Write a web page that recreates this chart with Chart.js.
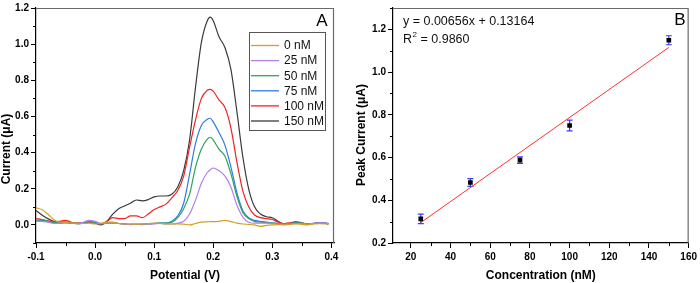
<!DOCTYPE html>
<html><head><meta charset="utf-8">
<script src="https://cdn.jsdelivr.net/npm/chart.js@4.4.0/dist/chart.umd.min.js"></script>
<style>
html,body{margin:0;padding:0;background:#fff;}
#wrap{width:700px;height:283px;position:relative;}
canvas{position:absolute;top:0;}
</style></head><body>
<div id="wrap"><canvas id="cA" width="350" height="283" style="left:0"></canvas><canvas id="cB" width="350" height="283" style="left:350px"></canvas></div>
<script>
// ---------- Panel A data ----------
const potential = [-0.1,-0.09,-0.08,-0.07,-0.06,-0.05,-0.04,-0.03,-0.02,-0.01,0,0.01,0.02,0.03,0.04,0.05,0.06,0.07,0.08,0.09,0.1,0.11,0.12,0.13,0.14,0.15,0.16,0.17,0.18,0.19,0.195,0.2,0.21,0.22,0.23,0.24,0.25,0.26,0.27,0.28,0.29,0.3,0.31,0.32,0.33,0.34,0.35,0.36,0.37,0.38,0.39,0.395];
const i0   = [0.095,0.085,0.06,0.03,0.015,0.015,0.012,0.01,0.008,0.01, 0.005,0.01,0.015,0.015,0.008,0.005,0.005,0.004,0.005,0.007, 0.01,0.008,0.005,0.005,0.006,0.004,0.0,0.008,0.015,0.017, 0.018, 0.018,0.02,0.025,0.018,0.01,0.005,0.003,0.0,-0.008, -0.003,0.0,0.002,0.0,0.003,0.005,0.003,0.0,0.005,0.007, 0.006,0.005];
const i25  = [0.02,0.02,0.015,0.008,0.01,0.012,0.01,0.008,0.015,0.025, 0.02,0.008,0.01,0.01,0.008,0.005,0.003,0.003,0.004,0.005, 0.006,0.008,0.005,0.005,0.01,0.02,0.06,0.136,0.23,0.29, 0.305, 0.315,0.3,0.27,0.21,0.11,0.045,0.015,0.01,0.01, 0.01,0.008,0.005,0.003,0.005,0.008,0.008,0.005,0.01,0.012, 0.012,0.008];
const i50  = [0.025,0.028,0.02,0.012,0.01,0.012,0.01,0.005,0.01,0.018, 0.012,0.005,0.01,0.012,0.008,0.005,0.003,0.003,0.004,0.006, 0.008,0.01,0.01,0.015,0.04,0.09,0.17,0.318,0.42,0.475, 0.485, 0.47,0.418,0.38,0.282,0.16,0.07,0.035,0.02,0.015, 0.012,0.01,0.008,0.005,0.008,0.01,0.01,0.005,0.008,0.012, 0.01,0.005];
const i75  = [0.02,0.025,0.02,0.015,0.012,0.012,0.01,0.008,0.012,0.02, 0.015,0.005,0.01,0.01,0.008,0.005,0.002,0.003,0.002,0.005, 0.008,0.01,0.01,0.02,0.05,0.12,0.28,0.45,0.55,0.585, 0.59, 0.57,0.51,0.44,0.32,0.18,0.08,0.04,0.025,0.02, 0.015,0.012,0.008,0.005,0.008,0.012,0.01,0.005,0.008,0.012, 0.01,0.005];
const i100 = [0.035,0.03,0.022,0.018,0.02,0.025,0.015,0.01,0.01,0.015, 0.01,0.005,0.02,0.04,0.035,0.035,0.05,0.05,0.04,0.06, 0.085,0.1,0.115,0.15,0.19,0.27,0.43,0.58,0.7,0.745, 0.75, 0.74,0.69,0.65,0.536,0.35,0.19,0.1,0.055,0.04, 0.035,0.03,0.015,0.008,0.012,0.018,0.012,0.005,0.008,0.012, 0.01,0.005];
const i150 = [0.08,0.055,0.035,0.02,0.015,0.015,0.012,0.01,0.01,0.015, 0.01,0.0,0.02,0.06,0.09,0.105,0.12,0.138,0.133,0.14, 0.155,0.16,0.16,0.17,0.21,0.30,0.47,0.76,1.01,1.13, 1.15, 1.13,1.04,0.98,0.86,0.63,0.38,0.2,0.1,0.06, 0.045,0.04,0.02,0.005,0.008,0.012,0.01,0.005,0.008,0.012, 0.01,0.005];
const seriesLabels = ['0 nM','25 nM','50 nM','75 nM','100 nM','150 nM'];
const seriesColors = ['#D4A020','#B67FEA','#2FA35F','#2F7BE8','#F02424','#3A3A3A'];
const aXTicks = [-0.1,0,0.1,0.2,0.3,0.4];
const aXLabels = ['-0.1','0.0','0.1','0.2','0.3','0.4'];
const aYTicks = [0,0.2,0.4,0.6,0.8,1.0,1.2];
const aYLabels = ['0.0','0.2','0.4','0.6','0.8','1.0','1.2'];

// ---------- Panel B data ----------
const conc = [25,50,75,100,150];
const peak = [0.313,0.483,0.588,0.750,1.149];
const peakErr = [0.022,0.018,0.015,0.025,0.021];
const fitSlope = 0.00656, fitIntercept = 0.13164;
const fitX = [25,150];
const bXTicks = [20,40,60,80,100,120,140,160];
const bYTicks = [0.2,0.4,0.6,0.8,1.0,1.2];
const bYLabels = ['0.2','0.4','0.6','0.8','1.0','1.2'];

const FONT = "'Liberation Sans', Arial, sans-serif";

function zip(xs, ys){ return xs.map((x,i)=>({x:x,y:ys[i]})); }

function minorTicks(ctx, scale, len){
  const t = scale.ticks.map(k=>k.value);
  const step = t[1]-t[0];
  ctx.save(); ctx.strokeStyle='#000'; ctx.lineWidth=1;
  for (let v = t[0]-step/2; v <= scale.max + 1e-9; v += step){
    if (v < scale.min - 1e-9) continue;
    const p = Math.round(scale.getPixelForValue(v)) + 0.5;
    ctx.beginPath();
    if (scale.isHorizontal()){ const y = scale.top; ctx.moveTo(p, y); ctx.lineTo(p, y+len); }
    else { const x = scale.right; ctx.moveTo(x, p); ctx.lineTo(x-len, p); }
    ctx.stroke();
  }
  ctx.restore();
}

function frame(ctx, ca){
  ctx.save();
  ctx.strokeStyle='#6a6a6a'; ctx.lineWidth=1.2;
  ctx.beginPath();
  ctx.moveTo(ca.left, ca.top+0.5); ctx.lineTo(ca.right-0.5, ca.top+0.5); ctx.lineTo(ca.right-0.5, ca.bottom);
  ctx.stroke();
  ctx.restore();
}

function vText(ctx, text, x, y){
  ctx.save(); ctx.translate(x,y); ctx.rotate(-Math.PI/2);
  ctx.textAlign='center'; ctx.textBaseline='middle';
  ctx.fillText(text,0,0); ctx.restore();
}

const decorA = {
  id:'decorA',
  afterDraw(chart){
    const ctx = chart.ctx, ca = chart.chartArea;
    frame(ctx, ca);
    minorTicks(ctx, chart.scales.x, 3);
    minorTicks(ctx, chart.scales.y, 3);
    ctx.save();
    ctx.fillStyle='#000';
    ctx.font = "bold 12px " + FONT;
    ctx.textAlign='center'; ctx.textBaseline='middle';
    ctx.fillText('Potential (V)', (ca.left+ca.right)/2, 276);
    vText(ctx, 'Current (\u03BCA)', 7, 149);
    ctx.font = "17px " + FONT;
    ctx.fillText('A', 322, 21);
    // legend
    const bx=249, by=32, bw=76, bh=98;
    ctx.strokeStyle='#555'; ctx.lineWidth=1;
    ctx.strokeRect(bx+0.5, by+0.5, bw, bh);
    ctx.font = "12px " + FONT; ctx.textAlign='left';
    chart.data.datasets.forEach((ds,i)=>{
      const yy = 45.5 + i*15.1;
      ctx.strokeStyle = ds.borderColor; ctx.lineWidth=1.3;
      ctx.beginPath(); ctx.moveTo(251, yy); ctx.lineTo(279, yy); ctx.stroke();
      ctx.fillStyle='#111';
      ctx.fillText(ds.label, 284, yy+0.5);
    });
    ctx.restore();
  }
};

const errBars = {
  id:'errBars',
  beforeDatasetsDraw(chart){
    const ctx = chart.ctx, xs = chart.scales.x, ys = chart.scales.y;
    ctx.save(); ctx.strokeStyle='#3b3bff'; ctx.lineWidth=1.2;
    conc.forEach((c,i)=>{
      const px = xs.getPixelForValue(c);
      const y1 = ys.getPixelForValue(peak[i]-peakErr[i]);
      const y2 = ys.getPixelForValue(peak[i]+peakErr[i]);
      ctx.beginPath();
      ctx.moveTo(px, y1); ctx.lineTo(px, y2);
      ctx.moveTo(px-3, y1); ctx.lineTo(px+3, y1);
      ctx.moveTo(px-3, y2); ctx.lineTo(px+3, y2);
      ctx.stroke();
    });
    ctx.restore();
  }
};

const decorB = {
  id:'decorB',
  afterDraw(chart){
    const ctx = chart.ctx, ca = chart.chartArea;
    frame(ctx, ca);
    minorTicks(ctx, chart.scales.x, 3);
    minorTicks(ctx, chart.scales.y, 3);
    ctx.save();
    ctx.fillStyle='#000';
    ctx.font = "bold 12px " + FONT;
    ctx.textAlign='center'; ctx.textBaseline='middle';
    ctx.fillText('Concentration (nM)', (ca.left+ca.right)/2, 276);
    vText(ctx, 'Peak Current (\u03BCA)', 12, 135);
    ctx.font = "17px " + FONT;
    ctx.fillText('B', 330, 20.5);
    ctx.font = "12.5px " + FONT; ctx.textAlign='left'; ctx.fillStyle='#111';
    ctx.fillText('y = ' + fitSlope + 'x + ' + fitIntercept, 53, 22);
    ctx.fillText('R', 53, 40);
    const rw = ctx.measureText('R').width;
    ctx.font = "8px " + FONT;
    ctx.fillText('2', 53+rw+0.5, 35);
    ctx.font = "12.5px " + FONT;
    ctx.fillText(' = 0.9860', 53+rw+5, 40);
    ctx.restore();
  }
};

function axisCommon(){
  return {
    type:'linear',
    grid:{drawOnChartArea:false, drawTicks:true, tickLength:5, tickColor:'#000', tickWidth:1},
    border:{display:true, color:'#000', width:1.2},
  };
}

Chart.defaults.font.family = FONT;
Chart.defaults.animation = false;

new Chart(document.getElementById('cA'), {
  type:'line',
  data:{ datasets:[i0,i25,i50,i75,i100,i150].map((arr,k)=>({
    label: seriesLabels[k], data: zip(potential, arr),
    borderColor: seriesColors[k], borderWidth:1.2, pointRadius:0,
    cubicInterpolationMode:'monotone', fill:false
  }))},
  options:{
    responsive:false, devicePixelRatio:1, animation:false,
    layout:{padding:{top:5,right:16,left:0,bottom:0}},
    plugins:{legend:{display:false}, tooltip:{enabled:false}},
    scales:{
      x: Object.assign(axisCommon(), {
        min:-0.1, max:0.4045,
        afterBuildTicks(s){ s.ticks = aXTicks.map(v=>({value:v})); },
        afterFit(s){ s.height = 40; },
        ticks:{autoSkip:false, maxRotation:0, padding:3, color:'#000', font:{size:10, weight:'bold'},
          callback:(v,i)=>aXLabels[i]}
      }),
      y: Object.assign(axisCommon(), {
        min:-0.1, max:1.2,
        afterBuildTicks(s){ s.ticks = aYTicks.map(v=>({value:v})); },
        afterFit(s){ s.width = 36; },
        ticks:{autoSkip:false, padding:2, color:'#000', font:{size:10, weight:'bold'},
          callback:(v,i)=>aYLabels[i]}
      })
    }
  },
  plugins:[decorA]
});

new Chart(document.getElementById('cB'), {
  type:'scatter',
  data:{ datasets:[
    { type:'line', label:'fit', data: fitX.map(x=>({x:x, y: fitSlope*x + fitIntercept})),
      borderColor:'#FF3030', borderWidth:1, pointRadius:0, fill:false, order:2 },
    { label:'Peak', data: zip(conc, peak), pointStyle:'rect', pointRadius:3.3,
      backgroundColor:'#000', borderColor:'#000', borderWidth:0, order:1 }
  ]},
  options:{
    responsive:false, devicePixelRatio:1, animation:false,
    layout:{padding:{top:5,right:9,left:0,bottom:0}},
    plugins:{legend:{display:false}, tooltip:{enabled:false}},
    scales:{
      x: Object.assign(axisCommon(), {
        min:11, max:160,
        afterBuildTicks(s){ s.ticks = bXTicks.map(v=>({value:v})); },
        afterFit(s){ s.height = 40; },
        ticks:{autoSkip:false, maxRotation:0, padding:3, color:'#000', font:{size:10, weight:'bold'},
          callback:(v,i)=>String(bXTicks[i])}
      }),
      y: Object.assign(axisCommon(), {
        min:0.2, max:1.3,
        afterBuildTicks(s){ s.ticks = bYTicks.map(v=>({value:v})); },
        afterFit(s){ s.width = 43; },
        ticks:{autoSkip:false, padding:2, color:'#000', font:{size:10, weight:'bold'},
          callback:(v,i)=>bYLabels[i]}
      })
    }
  },
  plugins:[errBars, decorB]
});
</script>
</body></html>
